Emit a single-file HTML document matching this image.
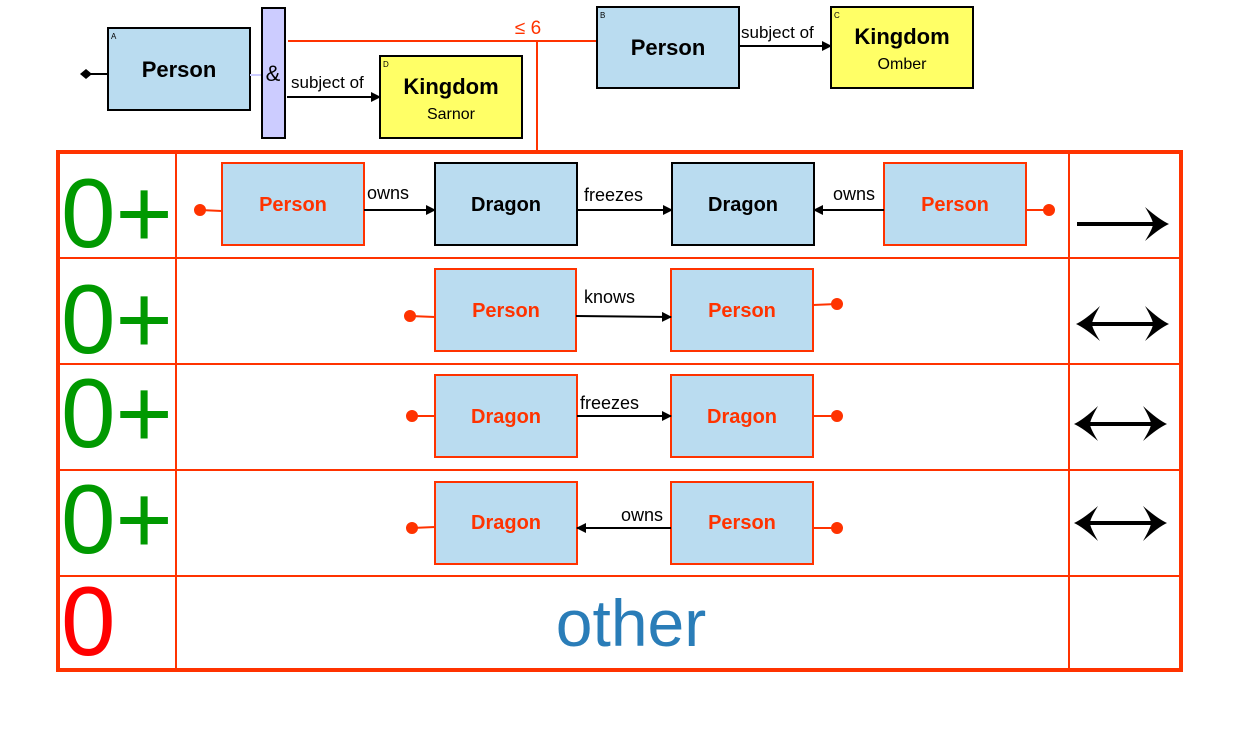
<!DOCTYPE html>
<html><head><meta charset="utf-8"><style>
html,body{margin:0;padding:0;background:#fff;width:1233px;height:739px;overflow:hidden}
svg{display:block}
</style></head><body>
<svg width="1233" height="739" xmlns="http://www.w3.org/2000/svg" font-family="Liberation Sans, DejaVu Sans, sans-serif">
<defs>
<marker id="ah" markerWidth="10" markerHeight="10" refX="9" refY="5" orient="auto" markerUnits="userSpaceOnUse"><path d="M0,0 L10,5 L0,10 z" fill="#000"/></marker>
</defs>
<!-- top section -->
<line x1="82" y1="74" x2="108" y2="74" stroke="#000" stroke-width="2"/>
<path d="M80,74 L86,69 L92,74 L86,79 z" fill="#000"/>
<rect x="108" y="28" width="142" height="82" fill="#BADCF0" stroke="#000" stroke-width="2"/>
<text x="111" y="39" font-size="8">A</text>
<text x="179" y="77" font-size="22" font-weight="bold" text-anchor="middle">Person</text>
<line x1="250" y1="75" x2="262" y2="75" stroke="#ccccff" stroke-width="2"/>
<rect x="262" y="8" width="23" height="130" fill="#CCCCFF" stroke="#000" stroke-width="2"/>
<text x="273" y="81" font-size="22" text-anchor="middle">&amp;</text>
<line x1="287" y1="97" x2="380" y2="97" stroke="#000" stroke-width="2" marker-end="url(#ah)"/>
<text x="291" y="88" font-size="17">subject of</text>
<rect x="380" y="56" width="142" height="82" fill="#FFFF66" stroke="#000" stroke-width="2"/>
<text x="383" y="67" font-size="8">D</text>
<text x="451" y="94" font-size="22" font-weight="bold" text-anchor="middle">Kingdom</text>
<text x="451" y="119" font-size="16" text-anchor="middle">Sarnor</text>
<line x1="288" y1="41" x2="597" y2="41" stroke="#FF3300" stroke-width="2"/>
<line x1="537" y1="41" x2="537" y2="151" stroke="#FF3300" stroke-width="2"/>
<text x="528" y="34" font-size="19" fill="#FF3300" text-anchor="middle">≤ 6</text>
<rect x="597" y="7" width="142" height="81" fill="#BADCF0" stroke="#000" stroke-width="2"/>
<text x="600" y="18" font-size="8">B</text>
<text x="668" y="55" font-size="22" font-weight="bold" text-anchor="middle">Person</text>
<line x1="739" y1="46" x2="831" y2="46" stroke="#000" stroke-width="2" marker-end="url(#ah)"/>
<text x="741" y="38" font-size="17">subject of</text>
<rect x="831" y="7" width="142" height="81" fill="#FFFF66" stroke="#000" stroke-width="2"/>
<text x="834" y="18" font-size="8">C</text>
<text x="902" y="44" font-size="22" font-weight="bold" text-anchor="middle">Kingdom</text>
<text x="902" y="69" font-size="16" text-anchor="middle">Omber</text>

<!-- table -->
<rect x="58" y="152" width="1123" height="518" fill="none" stroke="#FF3300" stroke-width="4"/>
<g stroke="#FF3300" stroke-width="2">
<line x1="176" y1="152" x2="176" y2="670"/>
<line x1="1069" y1="152" x2="1069" y2="670"/>
<line x1="58" y1="258" x2="1181" y2="258"/>
<line x1="58" y1="364" x2="1181" y2="364"/>
<line x1="58" y1="470" x2="1181" y2="470"/>
<line x1="58" y1="576" x2="1181" y2="576"/>
</g>
<g font-size="98" fill="#009900">
<text x="61" y="247">0+</text>
<text x="61" y="353">0+</text>
<text x="61" y="447">0+</text>
<text x="61" y="553">0+</text>
</g>
<text x="61" y="655" font-size="98" fill="#FF0000">0</text>
<text x="631" y="646" font-size="66" fill="#2A7DB8" text-anchor="middle">other</text>

<g font-weight="bold" font-size="20" text-anchor="middle">
<rect x="222" y="163" width="142" height="82" fill="#BADCF0" stroke="#FF3300" stroke-width="2"/>
<text x="293" y="211" fill="#FF3300">Person</text>
<rect x="435" y="163" width="142" height="82" fill="#BADCF0" stroke="#000" stroke-width="2"/>
<text x="506" y="211" fill="#000">Dragon</text>
<rect x="672" y="163" width="142" height="82" fill="#BADCF0" stroke="#000" stroke-width="2"/>
<text x="743" y="211" fill="#000">Dragon</text>
<rect x="884" y="163" width="142" height="82" fill="#BADCF0" stroke="#FF3300" stroke-width="2"/>
<text x="955" y="211" fill="#FF3300">Person</text>
<rect x="435" y="269" width="141" height="82" fill="#BADCF0" stroke="#FF3300" stroke-width="2"/>
<text x="506" y="317" fill="#FF3300">Person</text>
<rect x="671" y="269" width="142" height="82" fill="#BADCF0" stroke="#FF3300" stroke-width="2"/>
<text x="742" y="317" fill="#FF3300">Person</text>
<rect x="435" y="375" width="142" height="82" fill="#BADCF0" stroke="#FF3300" stroke-width="2"/>
<text x="506" y="423" fill="#FF3300">Dragon</text>
<rect x="671" y="375" width="142" height="82" fill="#BADCF0" stroke="#FF3300" stroke-width="2"/>
<text x="742" y="423" fill="#FF3300">Dragon</text>
<rect x="435" y="482" width="142" height="82" fill="#BADCF0" stroke="#FF3300" stroke-width="2"/>
<text x="506" y="529" fill="#FF3300">Dragon</text>
<rect x="671" y="482" width="142" height="82" fill="#BADCF0" stroke="#FF3300" stroke-width="2"/>
<text x="742" y="529" fill="#FF3300">Person</text>
</g>
<g stroke="#000" stroke-width="2">
<line x1="364" y1="210" x2="435" y2="210" marker-end="url(#ah)"/>
<line x1="577" y1="210" x2="672" y2="210" marker-end="url(#ah)"/>
<line x1="884" y1="210" x2="814" y2="210" marker-end="url(#ah)"/>
<line x1="576" y1="316" x2="671" y2="317" marker-end="url(#ah)"/>
<line x1="577" y1="416" x2="671" y2="416" marker-end="url(#ah)"/>
<line x1="671" y1="528" x2="577" y2="528" marker-end="url(#ah)"/>
</g>
<g font-size="18" fill="#000">
<text x="367" y="199">owns</text>
<text x="584" y="201">freezes</text>
<text x="833" y="200">owns</text>
<text x="584" y="303">knows</text>
<text x="580" y="409">freezes</text>
<text x="621" y="521">owns</text>
</g>
<g stroke="#FF3300" stroke-width="2" fill="#FF3300">
<line x1="200" y1="210" x2="222" y2="211"/><circle cx="200" cy="210" r="5"/>
<line x1="1026" y1="210" x2="1049" y2="210"/><circle cx="1049" cy="210" r="5"/>
<line x1="410" y1="316" x2="435" y2="317"/><circle cx="410" cy="316" r="5"/>
<line x1="813" y1="305" x2="837" y2="304"/><circle cx="837" cy="304" r="5"/>
<line x1="412" y1="416" x2="435" y2="416"/><circle cx="412" cy="416" r="5"/>
<line x1="813" y1="416" x2="837" y2="416"/><circle cx="837" cy="416" r="5"/>
<line x1="412" y1="528" x2="435" y2="527"/><circle cx="412" cy="528" r="5"/>
<line x1="813" y1="528" x2="837" y2="528"/><circle cx="837" cy="528" r="5"/>
</g>
<g fill="#000">
<rect x="1077" y="222" width="82" height="4"/>
<path d="M1145,207 Q1160,220 1169,224 Q1160,228 1145,241 Q1153,228 1153,224 Q1153,220 1145,207 z"/>
<rect x="1085" y="322" width="74" height="4"/>
<path d="M1145,306 Q1160,320 1169,324 Q1160,328 1145,341 Q1153,328 1153,324 Q1153,320 1145,306 z"/>
<path d="M1100,306 Q1085,320 1076,324 Q1085,328 1100,341 Q1092,328 1092,324 Q1092,320 1100,306 z"/>
<rect x="1083" y="422" width="74" height="4"/>
<path d="M1143,406 Q1158,420 1167,424 Q1158,428 1143,441 Q1151,428 1151,424 Q1151,420 1143,406 z"/>
<path d="M1098,406 Q1083,420 1074,424 Q1083,428 1098,441 Q1090,428 1090,424 Q1090,420 1098,406 z"/>
<rect x="1083" y="521" width="74" height="4"/>
<path d="M1143,506 Q1158,519 1167,523 Q1158,527 1143,541 Q1151,527 1151,523 Q1151,519 1143,506 z"/>
<path d="M1098,506 Q1083,519 1074,523 Q1083,527 1098,541 Q1090,527 1090,523 Q1090,519 1098,506 z"/>
</g>
</svg>
</body></html>
